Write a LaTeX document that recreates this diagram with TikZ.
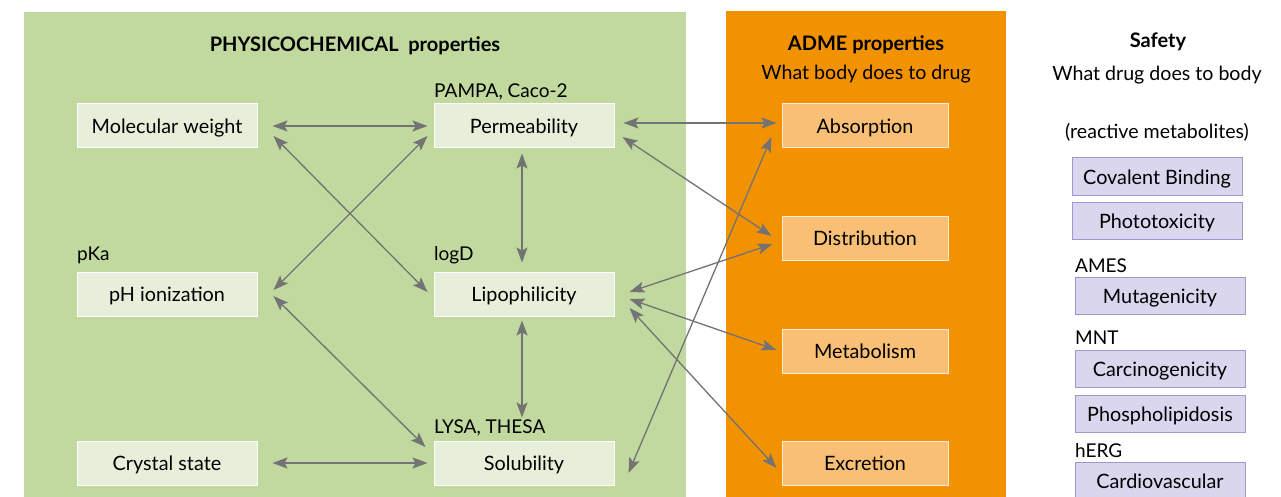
\documentclass[tikz,border=0pt]{standalone}
\usepackage{fontspec}
\setmainfont{Lato}
\usetikzlibrary{arrows.meta,calc}
\definecolor{panelgreen}{HTML}{C1D99F}
\definecolor{boxgreen}{HTML}{E7EFDB}
\definecolor{panelorange}{HTML}{F29200}
\definecolor{boxorange}{HTML}{F9BF75}
\definecolor{boxpurple}{HTML}{D9D6EE}
\definecolor{edgepurple}{HTML}{9D98CF}
\definecolor{linkgray}{HTML}{737373}
\tikzset{
  physbox/.style={draw=white, line width=1pt, fill=boxgreen, minimum width=180pt, minimum height=44pt, text height=18pt, text depth=3pt, font=\fontsize{19.8}{22}\selectfont},
  admebox/.style={draw=white!70!boxorange, line width=1pt, fill=boxorange, minimum width=166pt, minimum height=44pt, text height=18pt, text depth=3pt, font=\fontsize{19.8}{22}\selectfont},
  safebox/.style={draw=edgepurple, line width=1pt, fill=boxpurple, minimum width=170pt, minimum height=37pt, text height=18pt, text depth=3pt, font=\fontsize{19.8}{22}\selectfont},
  assay/.style={anchor=base west, inner sep=0pt, font=\fontsize{19}{22}\selectfont},
  heading/.style={anchor=base, inner sep=0pt, font=\bfseries\fontsize{20}{24}\selectfont},
  subhead/.style={anchor=base, inner sep=0pt, font=\fontsize{19.6}{22}\selectfont},
  link/.style={linkgray, line width=1.3pt, {Stealth[length=15pt,width=11pt,inset=3pt]}-{Stealth[length=15pt,width=11pt,inset=3pt]}}
}
\begin{document}
\begin{tikzpicture}[x=1pt, y=-1pt]
  \useasboundingbox (0,0) rectangle (1281,497);
  %%panels
  \fill[panelgreen] (24,12) rectangle (686,497);
  \fill[panelorange] (726,11) rectangle (1006,497);

  %%physicochemical
  \node[heading] (physhead) at (355,52) {PHYSICOCHEMICAL~ properties};
  \node[physbox] (mw) at (167,126) {Molecular weight};
  \node[physbox] (perm) at (524,126) {Permeability};
  \node[physbox] (ph) at (167,294) {pH ionization};
  \node[physbox] (lipo) at (524,294) {Lipophilicity};
  \node[physbox] (cryst) at (167,463) {Crystal state};
  \node[physbox] (sol) at (524,463) {Solubility};
  \node[assay] (pampa) at (434,98) {PAMPA, Caco-2};
  \node[assay] (pka) at (77,260) {pKa};
  \node[assay] (logd) at (434,260) {logD};
  \node[assay] (lysa) at (434,433) {LYSA, THESA};

  %%adme
  \node[heading] (admehead) at (866,51) {ADME properties};
  \node[subhead] (admesub) at (866,80) {What body does to drug};
  \node[admebox] (abs) at (865,126) {Absorption};
  \node[admebox] (dist) at (865,238) {Distribution};
  \node[admebox] (met) at (865,351) {Metabolism};
  \node[admebox] (exc) at (865,463) {Excretion};

  %%safety
  \node[heading] (safehead) at (1158,48) {Safety};
  \node[subhead] (safesub) at (1157,81) {What drug does to body};
  \node[subhead] (reactive) at (1157,139) {(reactive metabolites)};
  \node[safebox] (cov) at (1157,176.5) {Covalent Binding};
  \node[safebox] (photo) at (1157,221) {Phototoxicity};
  \node[assay] (ames) at (1075,272) {AMES};
  \node[safebox] (muta) at (1160,295.5) {Mutagenicity};
  \node[assay] (mnt) at (1075,344) {MNT};
  \node[safebox] (carc) at (1160,368.5) {Carcinogenicity};
  \node[safebox] (phos) at (1160,413.5) {Phospholipidosis};
  \node[assay] (herg) at (1075,457) {hERG};
  \node[safebox] (cardio) at (1160,480.5) {Cardiovascular};

  %%links inside
  \draw[link] ($(mw.east)+(15,0)$) to ($(perm.west)+(-6,0)$);
  \draw[link] ($(mw.east)+(16,10)$) to ($(lipo.west)+(-6,-2)$);
  \draw[link] ($(ph.east)+(16,-4)$) to ($(perm.west)+(-6,10)$);
  \draw[link] ($(ph.east)+(16,2)$) to ($(sol.west)+(-8,-16)$);
  \draw[link] ($(cryst.east)+(15,0)$) to ($(sol.west)+(-6,0)$);
  \draw[link] ($(perm.south)+(-2,5)$) to ($(lipo.north)+(-2,-9)$);
  \draw[link] ($(lipo.south)+(-2,4)$) to ($(sol.north)+(-2,-23)$);
  %%links to adme
  \draw[link] ($(perm.east)+(9,-3)$) to ($(abs.west)+(-5,-3)$);
  \draw[link] ($(perm.east)+(8,11)$) to ($(dist.west)+(-10,-2)$);
  \draw[link] ($(lipo.east)+(15,-2)$) to ($(dist.west)+(-9,6)$);
  \draw[link] ($(lipo.east)+(15,5)$) to ($(met.west)+(-5,-1)$);
  \draw[link] ($(lipo.east)+(15,14)$) to ($(exc.west)+(-5,5)$);
  \draw[link] ($(sol.east)+(14,10)$) to ($(abs.west)+(-10,11)$);
\end{tikzpicture}
\end{document}
